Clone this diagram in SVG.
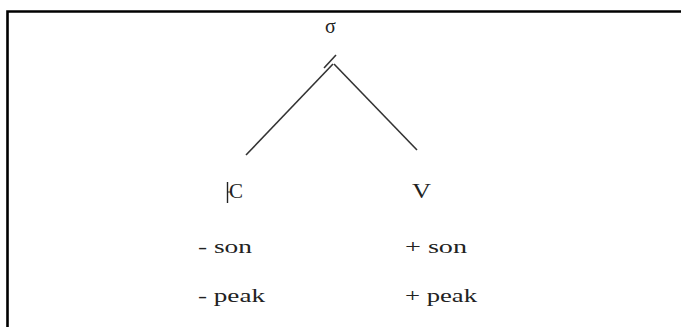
<svg xmlns="http://www.w3.org/2000/svg" width="681" height="327" viewBox="0 0 681 327">
<style>
.t{font-family:"Liberation Serif","Times New Roman",serif;font-size:20px;fill:#222}
.f{font-family:"Liberation Serif","Times New Roman",serif;font-size:19px;fill:#222}
.ln{stroke:#333;stroke-width:1.6;fill:none}
</style>
<rect width="681" height="327" fill="#fff"/>
<g id="frame" stroke="#000" stroke-width="2.6" fill="none">
<path d="M7.5 327 V11.5 H681"/>
</g>
<g id="connectors">
<line class="ln" x1="333" y1="64" x2="246" y2="155"/>
<line class="ln" x1="334" y1="64" x2="417" y2="150"/>
<line class="ln" x1="324" y1="68" x2="336" y2="55"/>
</g>
<g id="sigma"><text class="t" x="330.5" y="33" text-anchor="middle">σ</text></g>
<g id="C">
<line x1="227.5" y1="182" x2="227.5" y2="203" stroke="#222" stroke-width="1.4"/>
<line x1="227.5" y1="192" x2="231" y2="192" stroke="#222" stroke-width="1"/>
<text class="t" x="229" y="198" textLength="14" lengthAdjust="spacingAndGlyphs">C</text>
</g>
<g id="V"><text class="t" x="412" y="198" textLength="19" lengthAdjust="spacingAndGlyphs">V</text></g>
<g id="C-feat">
<text class="f" x="198" y="253" textLength="54" lengthAdjust="spacingAndGlyphs">- son</text>
<text class="f" x="198" y="302" textLength="67" lengthAdjust="spacingAndGlyphs">- peak</text>
</g>
<g id="V-feat">
<text class="f" x="405" y="253" textLength="62" lengthAdjust="spacingAndGlyphs">+ son</text>
<text class="f" x="405" y="302" textLength="72" lengthAdjust="spacingAndGlyphs">+ peak</text>
</g>
</svg>
